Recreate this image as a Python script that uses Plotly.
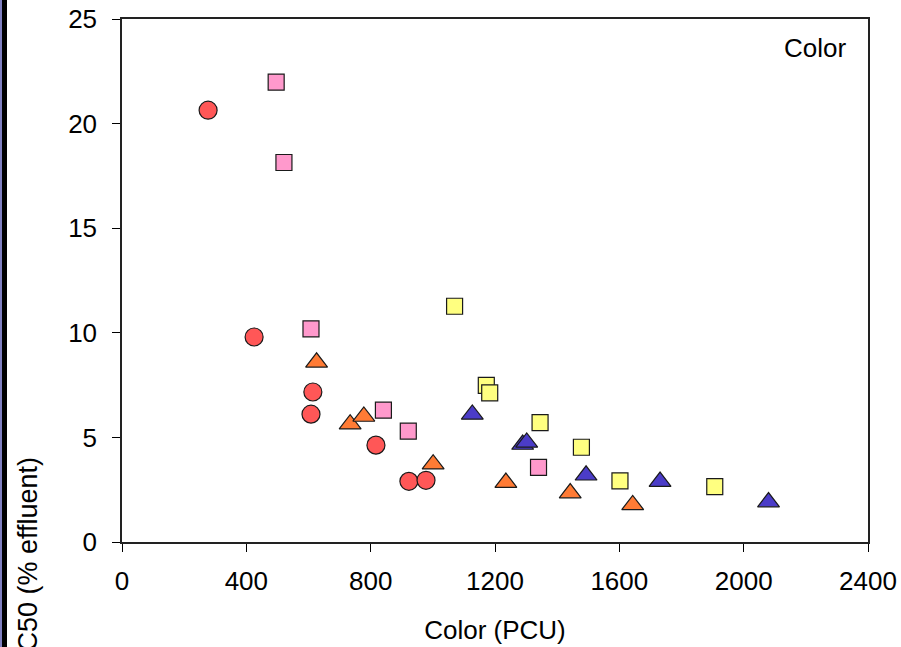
import plotly.graph_objects as go

# ---- data ----
red_x = [277, 425, 614, 608, 817, 923, 978]
red_y = [20.64, 9.80, 7.17, 6.11, 4.63, 2.90, 2.95]

pink_x = [496, 521, 608, 841, 921, 1340]
pink_y = [21.98, 18.14, 10.19, 6.30, 5.30, 3.57]

orange_x = [626, 734, 778, 1001, 1235, 1442, 1643]
orange_y = [8.59, 5.63, 6.00, 3.72, 2.84, 2.34, 1.77]

blue_x = [1127, 1289, 1302, 1493, 1731, 2080]
blue_y = [6.10, 4.66, 4.76, 3.19, 2.89, 1.91]

yellow_x = [1070, 1172, 1183, 1345, 1478, 1602, 1907]
yellow_y = [11.27, 7.49, 7.13, 5.71, 4.53, 2.92, 2.65]

x_ticks = [0, 400, 800, 1200, 1600, 2000, 2400]
y_ticks = [0, 5, 10, 15, 20, 25]

FONT = "Liberation Sans, Arial, sans-serif"
W, H = 901, 647
L, R, T, B = 122, 33, 19, 105
PW, PH = W - L - R, H - T - B

def px2paper_x(px):
    return (px - L) / PW

def px2paper_y(py):
    return 1 - (py - T) / PH

edge = dict(color="#1a1a1a", width=1.2)

fig = go.Figure()
fig.add_trace(go.Scatter(x=red_x, y=red_y, mode="markers",
                         marker=dict(symbol="circle", size=18, color="#FF5757", line=edge)))
fig.add_trace(go.Scatter(x=pink_x, y=pink_y, mode="markers",
                         marker=dict(symbol="square", size=16, color="#FF99CC", line=edge)))
fig.add_trace(go.Scatter(x=orange_x, y=orange_y, mode="markers",
                         marker=dict(symbol="triangle-up", size=19, color="#FF7B35", line=edge)))
fig.add_trace(go.Scatter(x=blue_x, y=blue_y, mode="markers",
                         marker=dict(symbol="triangle-up", size=19, color="#4B3CC8", line=edge)))
fig.add_trace(go.Scatter(x=yellow_x, y=yellow_y, mode="markers",
                         marker=dict(symbol="square", size=16, color="#FFFF80", line=edge)))

axis_common = dict(showgrid=False, zeroline=False, showline=True, mirror=True,
                   linecolor="#222222", linewidth=1.5, ticks="outside", ticklen=8,
                   tickcolor="#000000", tickwidth=1,
                   tickfont=dict(family=FONT, size=26, color="#000000"))

fig.update_xaxes(range=[0, 2400], tickvals=x_ticks, ticktext=[str(v) for v in x_ticks],
                 ticklabelstandoff=7,
                 title=dict(text="Color (PCU)", font=dict(family=FONT, size=26, color="#000000"),
                            standoff=26),
                 **axis_common)
fig.update_yaxes(range=[0, 25], tickvals=y_ticks, ticktext=[str(v) for v in y_ticks],
                 ticklabelstandoff=10,
                 **axis_common)

fig.add_annotation(text="Color", x=px2paper_x(815), y=px2paper_y(48), xref="paper", yref="paper",
                   showarrow=False, xanchor="center", yanchor="middle",
                   font=dict(family=FONT, size=26, color="#000000"))
fig.add_annotation(text="IC50 (% effluent)", x=px2paper_x(28), y=px2paper_y(558),
                   xref="paper", yref="paper", textangle=-90,
                   showarrow=False, xanchor="center", yanchor="middle",
                   font=dict(family=FONT, size=27, color="#000000"))

# dark frame edge at the left of the picture
fig.add_shape(type="rect", xref="paper", yref="paper",
              x0=px2paper_x(0), x1=px2paper_x(2), y0=px2paper_y(H + 5), y1=px2paper_y(-5),
              fillcolor="#8080C0", line=dict(width=0), layer="above")
fig.add_shape(type="rect", xref="paper", yref="paper",
              x0=px2paper_x(2), x1=px2paper_x(7), y0=px2paper_y(H + 5), y1=px2paper_y(-5),
              fillcolor="#000000", line=dict(width=0), layer="above")

fig.update_layout(width=W, height=H, margin=dict(l=L, r=R, t=T, b=B, autoexpand=False),
                  paper_bgcolor="white", plot_bgcolor="white", showlegend=False,
                  font=dict(family=FONT, size=26, color="#000000"))

fig.write_html("out.html")
